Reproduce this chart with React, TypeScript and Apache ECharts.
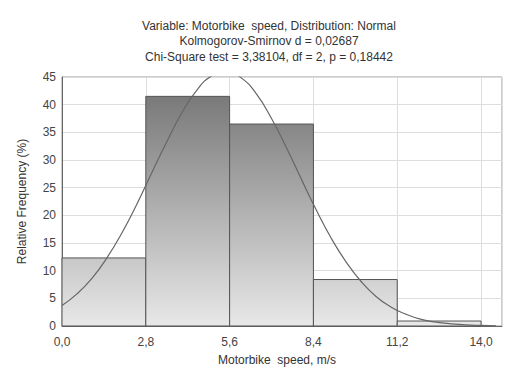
import React, { useEffect, useRef } from "react";
import * as echarts from "echarts";

const binStart = [0, 2.8, 5.6, 8.4, 11.2];
const binEnd = [2.8, 5.6, 8.4, 11.2, 14.0];
const binFreq = [12.3, 41.5, 36.5, 8.4, 0.9];

const curveX = [0, 0.5, 1, 1.5, 2, 2.5, 3, 3.5, 4, 4.5, 5, 5.5, 6, 6.5, 7, 7.5, 8, 8.5, 9, 9.5, 10, 10.5, 11, 11.5, 12, 12.5, 13, 13.5, 14, 14.5];
const curveY = [3.7, 5.8, 8.6, 12.3, 16.8, 22.0, 27.7, 33.3, 38.5, 42.6, 45.2, 46.0, 44.8, 41.9, 37.5, 32.2, 26.5, 20.9, 15.8, 11.5, 8.0, 5.3, 3.4, 2.1, 1.2, 0.7, 0.4, 0.2, 0.1, 0.04];

const xTickValues = [0, 2.8, 5.6, 8.4, 11.2, 14.0];
const xTickLabels = ["0,0", "2,8", "5,6", "8,4", "11,2", "14,0"];

const titleLines = [
  "Variable: Motorbike  speed, Distribution: Normal",
  "Kolmogorov-Smirnov d = 0,02687",
  "Chi-Square test = 3,38104, df = 2, p = 0,18442",
];
const xName = "Motorbike  speed, m/s";
const yName = "Relative Frequency (%)";

export default function App() {
  const ref = useRef<HTMLDivElement>(null);
  useEffect(() => {
    if (!ref.current) return;
    const chart = echarts.init(ref.current, null, { renderer: "svg" });
    const font = "Arial, 'Liberation Sans', sans-serif";
    const barData = binStart.map((s, i) => [s, binEnd[i], binFreq[i]]);
    chart.setOption({
      animation: false,
      backgroundColor: "#ffffff",
      title: {
        text: titleLines.join("\n"),
        left: 264,
        top: 13,
        textAlign: "center",
        textStyle: { fontSize: 12, fontWeight: "normal", color: "#333", fontFamily: font, lineHeight: 15.5 },
      },
      grid: { left: 62, right: 7, top: 77, bottom: 46, show: true, borderColor: "#999", borderWidth: 1 },
      xAxis: {
        type: "value",
        min: 0,
        max: 14.7,
        interval: 2.8,
        name: xName,
        nameLocation: "middle",
        nameGap: 28,
        nameTextStyle: { fontSize: 12, color: "#333", fontFamily: font, padding: [0, 0, 0, -10] },
        axisLine: { show: true, lineStyle: { color: "#666" } },
        axisTick: { show: false },
        splitLine: { show: true, lineStyle: { color: "#ddd" } },
        axisLabel: {
          fontSize: 12,
          color: "#444",
          fontFamily: font,
          margin: 10,
          formatter: (v: number) => {
            const i = xTickValues.findIndex((t) => Math.abs(t - v) < 1e-6);
            return i >= 0 ? xTickLabels[i] : "";
          },
        },
      },
      yAxis: {
        type: "value",
        min: 0,
        max: 45,
        interval: 5,
        name: yName,
        nameLocation: "middle",
        nameGap: 34,
        nameTextStyle: { fontSize: 12, color: "#333", fontFamily: font },
        axisLine: { show: true, lineStyle: { color: "#666" } },
        axisTick: { show: false },
        splitLine: { show: true, lineStyle: { color: "#ddd" } },
        axisLabel: { fontSize: 12, color: "#444", fontFamily: font, margin: 6 },
      },
      series: [
        {
          type: "custom",
          data: barData,
          encode: { x: [0, 1], y: 2 },
          renderItem: (params: any, api: any) => {
            const p0 = api.coord([api.value(0), api.value(2)]);
            const p1 = api.coord([api.value(1), 0]);
            const top = api.coord([0, 45])[1];
            const bottom = api.coord([0, 0])[1];
            return {
              type: "rect",
              shape: { x: p0[0], y: p0[1], width: p1[0] - p0[0], height: p1[1] - p0[1] },
              style: {
                fill: new echarts.graphic.LinearGradient(0, top, 0, bottom, [
                  { offset: 0, color: "#707070" },
                  { offset: 1, color: "#e8e8e8" },
                ], true),
                stroke: "#555",
                lineWidth: 1,
              },
            };
          },
          z: 2,
        },
        {
          type: "line",
          data: curveX.map((x, i) => [x, curveY[i]]),
          smooth: true,
          showSymbol: false,
          clip: true,
          lineStyle: { color: "#666", width: 1.2 },
          z: 3,
        },
      ],
    });
    return () => chart.dispose();
  }, []);
  return <div ref={ref} style={{ width: 509, height: 372, position: "absolute", left: 0, top: 0 }} />;
}
